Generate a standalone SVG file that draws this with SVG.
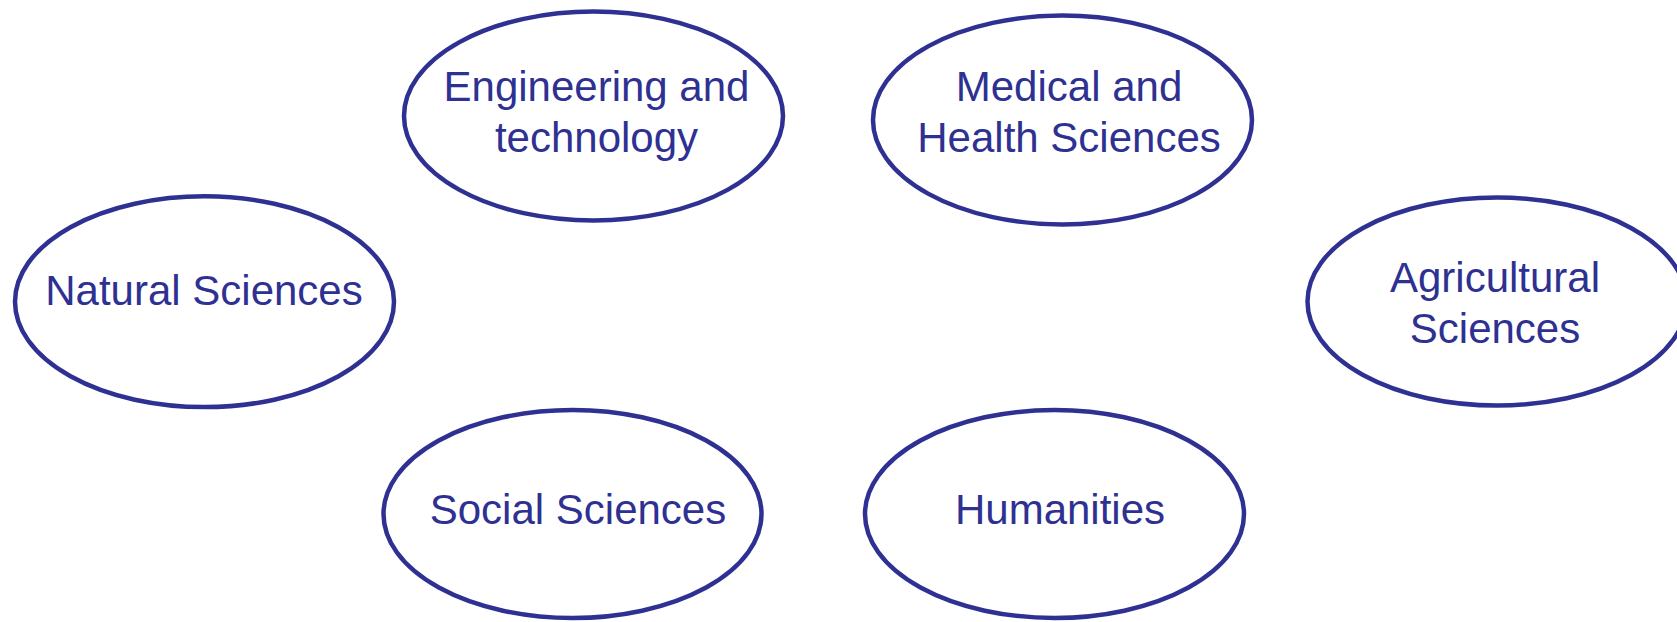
<svg xmlns="http://www.w3.org/2000/svg" width="1677" height="622" viewBox="0 0 1677 622">
<style>
.n ellipse { fill: #ffffff; stroke: #2e3192; stroke-width: 4.5; }
.n text { font-family: "Liberation Sans", Arial, sans-serif; font-size: 42px; fill: #2e3192; text-anchor: middle; }
</style>
<rect width="1677" height="622" fill="#ffffff"/>
<g id="connectors"></g>
<g id="engineering" class="n">
<ellipse cx="593.5" cy="116" rx="189.5" ry="104.5"/>
<text x="596.5" y="100.7">Engineering and</text>
<text x="596.5" y="151.7">technology</text>
</g>
<g id="medical" class="n">
<ellipse cx="1062.5" cy="120" rx="189.5" ry="104.5"/>
<text x="1069" y="100.7">Medical and</text>
<text x="1069" y="151.7">Health Sciences</text>
</g>
<g id="natural" class="n">
<ellipse cx="204.5" cy="301.7" rx="189.5" ry="105.4"/>
<text x="204" y="305">Natural Sciences</text>
</g>
<g id="agricultural" class="n">
<ellipse cx="1497" cy="301.5" rx="189.5" ry="104"/>
<text x="1495" y="291.7">Agricultural</text>
<text x="1495" y="342.7">Sciences</text>
</g>
<g id="social" class="n">
<ellipse cx="572.5" cy="514" rx="189" ry="104"/>
<text x="578" y="524.3">Social Sciences</text>
</g>
<g id="humanities" class="n">
<ellipse cx="1054.5" cy="514" rx="189.5" ry="104"/>
<text x="1060" y="524.3">Humanities</text>
</g>
</svg>
